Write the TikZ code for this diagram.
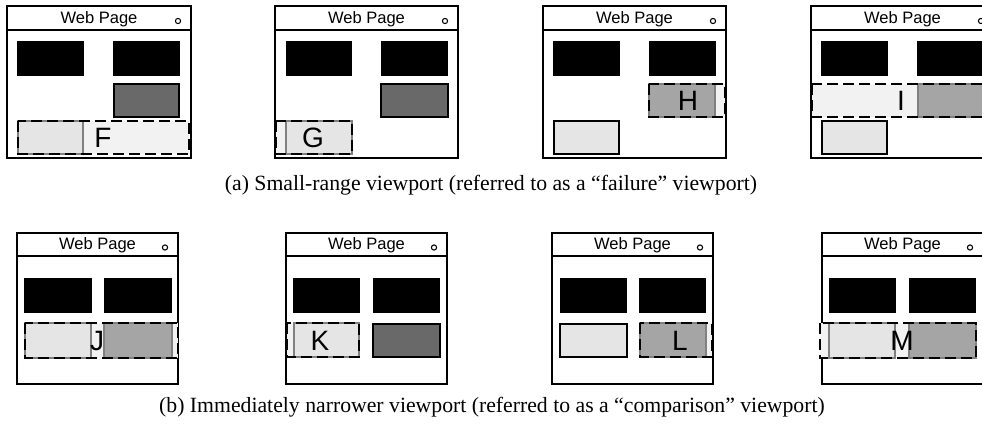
\documentclass[tikz,border=0pt]{standalone}
\usepackage{fontspec}
\setmainfont{Liberation Serif}
\newfontfamily\arialf{Liberation Sans}
\definecolor{dkgray}{HTML}{696969}
\definecolor{mdgray}{HTML}{A5A5A5}
\definecolor{ltgray}{HTML}{E5E5E5}
\definecolor{xlgray}{HTML}{F2F2F2}
\tikzset{
  wframe/.style={draw=black, line width=1.5pt, fill=white},
  blk/.style={fill=black},
  dkbox/.style={draw=black, line width=1.2pt, fill=dkgray},
  ltbox/.style={draw=black, line width=1.2pt, fill=ltgray},
  regionfill/.style={fill=xlgray},
  regionline/.style={draw=black, line width=1.4pt, dash pattern=on 8 off 4},
  inlt/.style={draw=gray, line width=0.8pt, fill=ltgray},
  inmd/.style={draw=gray, line width=0.8pt, fill=mdgray},
  wtitle/.style={font=\arialf\fontsize{12.4}{14}\selectfont, inner sep=0pt, anchor=base},
  letterlbl/.style={font=\arialf\fontsize{21}{24}\selectfont, inner sep=0pt},
  captext/.style={font=\fontsize{16.3}{19}\selectfont, inner sep=0pt},
  wdot/.style={draw=black, line width=0.8pt}
}
\newcommand{\wpframe}[6]{% x1 y1 x2 y2 titlebar-y name
  \draw[wframe] (#1,#2) rectangle (#3,#4);
  \draw[line width=1.5pt] (#1,#5) -- (#3,#5);
  \node[wtitle] (#6) at ({(#1+#3)/2},{#5-7}) {Web Page};
  \draw[wdot] ({#3-13},{(#2+#5)/2+3}) circle (2.6);
}
\begin{document}
\begin{tikzpicture}[x=0.75pt,y=-0.75pt]
\useasboundingbox (0,0) rectangle (982,425);
\clip (0,0) rectangle (982,425);

% ---------- Panel 1 (F)
\wpframe{7}{6}{191}{158}{30}{t1}
\fill[blk] (17,41) rectangle (84,76);
\fill[blk] (113,41) rectangle (180,76);
\draw[dkbox] (114,84) rectangle (179,117);
\fill[regionfill] (18,121) rectangle (189,154);
\draw[inlt] (18,121) rectangle (83,154);
\draw[regionline] (18,121) rectangle (189,154);
\node[letterlbl] (F) at (103,138) {F};

% ---------- Panel 2 (G)
\wpframe{275}{6}{458}{158}{30}{t2}
\fill[blk] (286,41) rectangle (352,76);
\fill[blk] (381,41) rectangle (448,76);
\draw[dkbox] (381,84) rectangle (448,117);
\fill[regionfill] (276,121) rectangle (352,154);
\draw[inlt] (286,121) rectangle (352,154);
\draw[regionline] (276,121) rectangle (352,154);
\node[letterlbl] (G) at (313,138) {G};

% ---------- Panel 3 (H)
\wpframe{543}{6}{726}{158}{30}{t3}
\fill[blk] (553,41) rectangle (620,76);
\fill[blk] (649,41) rectangle (716,76);
\fill[regionfill] (649,84) rectangle (725,117);
\draw[inmd] (649,84) rectangle (715,117);
\draw[regionline] (649,84) rectangle (725,117);
\node[letterlbl] (H) at (688,101) {H};
\draw[ltbox] (554,121) rectangle (619,154);

% ---------- Panel 4 (I)
\wpframe{811}{6}{994}{158}{30}{t4}
\fill[blk] (821,41) rectangle (888,76);
\fill[blk] (917,41) rectangle (984,76);
\fill[regionfill] (812,84) rectangle (1000,117);
\draw[inmd] (918,84) rectangle (985,117);
\draw[regionline] (812,84) rectangle (1000,117);
\node[letterlbl] (I) at (901,101) {I};
\draw[ltbox] (822,121) rectangle (887,154);

\node[captext] (capa) at (491,185) {(a) Small-range viewport (referred to as a ``failure'' viewport)};

% ---------- Panel 5 (J)
\wpframe{17}{233}{178}{384}{256}{t5}
\fill[blk] (24,278) rectangle (92,313);
\fill[blk] (104,278) rectangle (172,313);
\fill[regionfill] (25,323) rectangle (178,358);
\draw[inlt] (25,323) rectangle (91,358);
\draw[inmd] (104,323) rectangle (172,358);
\draw[regionline] (25,323) rectangle (178,358);
\node[letterlbl] (J) at (97,341) {J};

% ---------- Panel 6 (K)
\wpframe{286}{233}{447}{384}{256}{t6}
\fill[blk] (293,278) rectangle (360,313);
\fill[blk] (373,278) rectangle (440,313);
\fill[regionfill] (287,323) rectangle (359,357);
\draw[inlt] (294,323) rectangle (359,357);
\draw[regionline] (287,323) rectangle (359,357);
\node[letterlbl] (K) at (320,341) {K};
\draw[dkbox] (373,324) rectangle (440,357);

% ---------- Panel 7 (L)
\wpframe{552}{233}{713}{384}{256}{t7}
\fill[blk] (560,278) rectangle (627,313);
\fill[blk] (639,278) rectangle (706,313);
\draw[ltbox] (560,324) rectangle (627,357);
\fill[regionfill] (640,323) rectangle (712,357);
\draw[inmd] (640,323) rectangle (706,357);
\draw[regionline] (640,323) rectangle (712,357);
\node[letterlbl] (L) at (680,341) {L};

% ---------- Panel 8 (M)
\wpframe{822}{233}{983}{384}{256}{t8}
\fill[blk] (829,278) rectangle (896,313);
\fill[blk] (909,278) rectangle (976,313);
\fill[regionfill] (820,323) rectangle (976,358);
\draw[inlt] (829,323) rectangle (895,358);
\draw[inmd] (909,323) rectangle (976,358);
\draw[regionline] (820,323) rectangle (976,358);
\node[letterlbl] (M) at (902,341) {M};

\node[captext] (capb) at (492,407) {(b) Immediately narrower viewport (referred to as a ``comparison'' viewport)};
\end{tikzpicture}
\end{document}
